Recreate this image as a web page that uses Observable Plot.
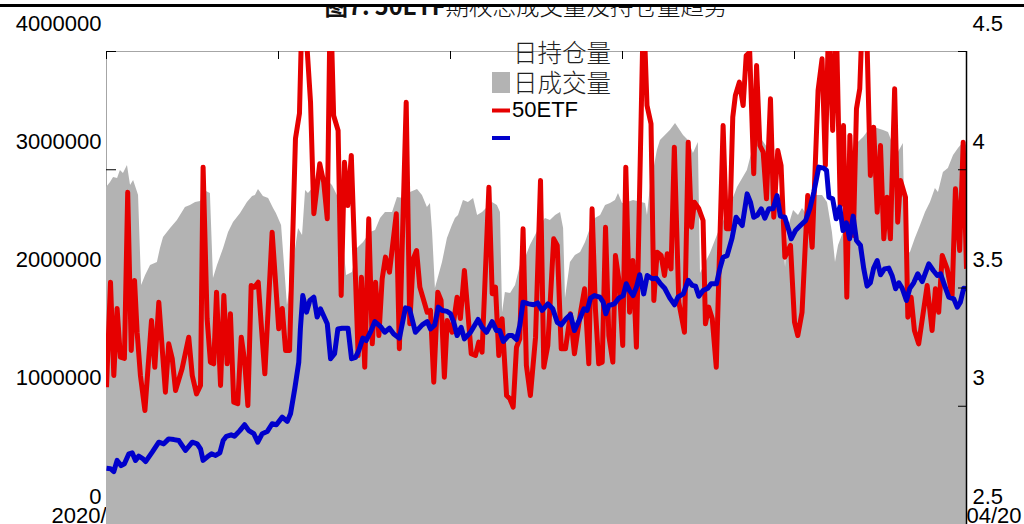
<!DOCTYPE html>
<html lang="zh"><head><meta charset="utf-8">
<script src="https://cdn.jsdelivr.net/npm/d3@7"></script>
<script src="https://cdn.jsdelivr.net/npm/@observablehq/plot@0.6"></script>
<style>
html,body{margin:0;padding:0;background:#fff;width:1024px;height:524px;overflow:hidden;}
#chart{position:absolute;left:0;top:0;}
#overlay{position:absolute;left:0;top:0;}
</style></head>
<body>
<div id="chart"></div>
<svg id="overlay" width="1024" height="524">
  <text x="526" y="15" text-anchor="middle" font-size="23.5" font-family="Noto Sans CJK SC" fill="#111"><tspan font-weight="bold">图7: 50ETF</tspan><tspan font-weight="300">期权总成交量及持仓量趋势</tspan></text>
  <rect x="0" y="0" width="1024" height="4" fill="#fff"/>
  <rect x="0" y="4" width="1024" height="3" fill="#000"/>
  <g id="legend"></g>
</svg>
<script>
// ---- data (days since start date; volumes in thousand contracts; 50ETF price in CNY) ----
const startDate = "2020-04-20";
const endDay = 365;
const UNIT = 1000;

const seriesNames = ["日持仓量", "日成交量", "50ETF"];

const oiDays = [0,1.7,3.0,4.7,5.9,7.2,8.9,10.2,11.5,13.2,
13.6,14.9,16.6,18.7,21.6,22.9,24.2,27.2,30.1,33.5,
35.6,37.8,39.9,42.4,44.1,45.4,47.1,49.7,51.8,53.9,
56.9,59.8,62.0,63.2,64.5,66.6,68.8,70.9,72.1,74.3,
76.8,81.5,83.2,84.5,85.7,88.7,90.0,92.9,95.9,98.0,
100.2,101.9,104.4,106.5,109.1,112.0,114.2,116.3,118.4,121.4,
123.5,126.0,129.0,132.0,134.1,136.2,137.5,138.4,139.6,142.6,
144.7,146.8,148.1,149.4,151.5,153.6,155.8,157.5,159.6,161.7,
163.8,165.9,167.2,168.1,169.3,171.5,173.6,175.7,177.8,179.9,
182.1,184.2,186.3,188.4,190.6,192.7,194.0,194.8,196.9,199.0,
201.2,203.3,205.4,207.5,209.7,211.8,213.9,216.0,217.3,219.0,
221.1,223.7,228.8,229.6,230.9,232.1,233.8,235.1,239.3,241.5,
244.9,247.0,249.1,251.2,252.1,256.3,260.6,263.6,267.8,272.0,
274.2,276.3,278.4,280.5,282.6,284.8,286.9,288.2,289.4,291.6,
293.7,295.4,297.5,298.8,300.9,303.9,306.0,308.1,309.4,310.7,
312.8,317.0,319.1,321.3,324.2,327.2,329.8,331.9,334.0,336.1,
338.2,339.1,341.2,343.3,345.5,347.6,349.7,351.8,353.1,355.2,
357.3,359.5,361.6,363.7,365];
const oiValues = [2850,2892,2935,2926,2994,2968,3036,2867,2909,2808,
2782,2021,2106,2190,2216,2334,2427,2503,2571,2681,
2698,2723,2732,2816,2799,2080,2190,2334,2469,2554,
2630,2723,2774,2782,2833,2774,2757,2672,2630,2529,
1852,2503,2444,2825,2799,2867,3011,2926,2867,2782,
2469,2106,2131,2334,2385,2469,2486,2588,2639,2639,
2765,2757,2808,2833,2782,2681,2715,2469,1996,2216,
2419,2529,2588,2613,2740,2723,2757,2613,2639,2681,
2723,2698,2639,1793,1962,1954,2021,2190,2250,2360,
2444,2529,2588,2571,2613,2639,2503,1911,2216,2275,
2300,2385,2503,2588,2613,2698,2715,2740,2799,2715,
2723,2740,2715,2613,2867,2977,3163,3247,3332,3391,
3290,3247,3138,3231,2123,2292,2512,2630,2850,2994,
3163,3247,3247,3188,2994,2765,2512,2173,2512,2655,
2613,2672,2613,2723,2782,2782,2723,2469,2216,2360,
2469,2926,3231,3273,3349,3349,3332,3315,3205,3146,
3222,2275,2300,2419,2529,2639,2723,2842,2808,2977,
3011,3121,3180,3231,3205];

const volDays = [0,1.7,3.1,4.5,5.9,7.6,9.0,10.5,11.9,13.0,
14.4,16.3,19.1,20.5,22.2,25.0,26.4,27.9,29.3,32.1,
34.9,36.4,38.2,39.9,41.0,42.7,44.1,45.5,46.7,48.4,
49.8,51.2,52.6,54.0,55.7,57.2,58.6,60.0,61.4,62.8,
64.4,65.8,67.2,70.3,73.1,74.6,76.0,77.7,80.2,81.9,
83.3,86.6,88.0,90.5,92.2,93.7,95.0,96.4,98.3,99.6,
101.0,102.4,103.9,106.8,108.2,109.6,111.3,112.8,114.2,115.6,
117.0,118.4,120.1,123.0,124.3,127.2,128.7,130.2,131.6,133.0,
136.1,137.5,138.9,140.6,142.0,143.4,144.6,146.7,148.8,150.2,
151.9,154.8,156.6,158.0,159.4,162.3,163.7,165.1,166.5,167.9,
169.8,171.2,172.6,174.0,175.4,176.8,178.2,179.9,182.1,184.2,
185.6,187.3,189.8,191.3,193.0,194.8,196.9,198.6,201.2,202.9,
204.7,206.1,207.5,208.9,210.4,211.8,213.2,214.9,216.0,217.4,
219.1,220.4,222.0,223.4,224.9,227.9,229.4,231.1,232.3,233.7,
235.4,236.8,238.0,239.6,241.0,242.9,245.3,246.9,248.3,249.5,
251.4,253.2,254.2,255.6,257.1,258.8,261.7,263.1,264.5,265.8,
266.9,268.6,270.2,271.5,273.0,274.7,275.9,277.3,278.7,280.1,
281.8,283.2,284.9,286.3,287.9,290.3,292.0,293.4,295.2,297.6,
299.5,302.0,303.7,305.1,306.5,308.2,309.7,311.4,312.8,314.2,
315.5,317.0,318.3,319.7,320.8,322.5,324.2,325.6,327.1,328.5,
329.9,331.3,332.7,334.5,335.8,337.0,339.1,340.1,341.5,342.9,
344.7,348.3,350.4,351.8,353.2,354.7,356.8,358.9,360.3,362.1,
363.6,365];
const volValues = [1161,2049,1260,1827,1415,1404,2810,1472,2064,1626,
1260,964,1725,1330,1880,1119,1528,1404,1133,1319,
1584,1260,1105,1176,3022,1740,1373,1359,1965,1176,
1937,1359,1782,1034,1021,1584,1387,1006,2021,2007,
2049,1655,1274,2472,1655,1827,1472,1472,3264,3476,
4600,3571,2628,3050,2895,2585,4500,3459,3332,1937,
3064,2698,3121,1429,2091,1330,2585,1528,2049,1598,
2078,2261,2134,2628,1486,3571,1697,2247,2317,2007,
1795,1810,1203,1965,1894,1246,1725,1626,1922,1742,
2148,1444,1429,1542,1457,2853,1951,2007,1429,1740,
1091,1063,992,1499,1570,2501,1345,1091,1584,2909,
1330,1514,2416,2360,1486,1486,1782,1444,1795,1993,
1359,2670,1824,1359,1373,2514,1598,1373,2275,2078,
1514,3022,1795,2233,1499,4400,3543,3389,1894,2303,
2275,2106,2289,2162,3191,1880,1626,3233,2514,2726,
2670,2571,1697,1838,1740,1330,3374,2501,2501,3445,
3628,3741,3543,3966,3994,2966,3882,3205,3149,2754,
3600,2599,3163,3036,2261,2360,1711,1598,1795,2782,
2345,3670,3938,3036,4300,3332,4300,2698,3374,1922,
3290,2444,3516,3685,4300,4300,2951,3360,2641,3205,
2416,2768,2416,3685,2557,2909,2768,1753,1922,1641,
1528,2021,1641,1993,1795,2275,2162,1937,2839,2317,
3233,2162];

const etfDays = [0,1.7,3.1,4.5,6.2,7.6,9.5,10.9,12.3,13.7,
15.2,16.6,19.4,22.2,24.3,26.4,28.6,30.7,33.5,36.4,
38.5,39.9,41.0,42.7,44.6,46.3,48.1,49.5,50.9,52.9,
54.3,56.6,58.6,60.4,62.5,64.2,66.1,68.2,70.3,72.1,
74.6,76.7,78.1,79.9,81.6,82.3,83.3,84.9,86.3,88.0,
89.4,90.8,93.7,95.1,96.8,98.2,100.0,102.5,104.0,105.7,
107.1,108.8,110.2,112.0,113.9,116.3,118.1,120.1,121.9,124.3,
126.9,128.6,131.1,134.0,136.1,137.5,139.3,140.8,142.5,144.6,
146.0,147.4,148.8,150.5,151.9,154.5,157.7,159.4,161.3,163.7,
165.5,166.9,168.4,170.7,172.2,174.0,175.4,176.8,179.2,181.3,
183.0,184.9,187.3,189.4,191.3,193.0,195.2,196.9,198.6,200.9,
202.6,204.0,205.4,207.1,209.4,210.8,211.9,213.2,215.6,217.4,
219.3,220.6,222.0,223.5,224.9,226.3,228.0,229.5,231.6,233.4,
235.1,236.9,239.1,241.1,242.5,244.8,246.9,248.6,250.0,251.4,
253.2,255.2,256.6,258.9,260.3,261.7,263.4,265.5,267.2,269.8,
271.9,273.3,274.7,276.2,277.9,279.4,281.1,282.9,284.6,286.0,
287.9,289.6,290.6,292.4,294.5,296.7,298.5,300.2,302.3,304.4,
305.6,306.6,308.2,309.7,311.2,312.6,314.0,315.4,316.9,318.3,
320.0,321.4,322.8,324.2,325.6,327.1,328.5,330.2,332.0,333.4,
334.9,336.3,337.7,339.5,340.9,342.6,344.3,346.2,349.0,350.9,
352.6,354.0,355.7,357.5,359.6,361.1,362.4,363.8,365];
const etfValues = [2.738,2.736,2.724,2.771,2.749,2.757,2.799,2.803,2.771,2.789,
2.780,2.766,2.806,2.848,2.841,2.862,2.859,2.855,2.813,2.848,
2.841,2.820,2.771,2.785,2.799,2.792,2.803,2.855,2.873,2.879,
2.873,2.897,2.922,2.897,2.884,2.848,2.884,2.893,2.926,2.922,
2.954,2.936,2.968,3.074,3.186,3.329,3.468,3.398,3.447,3.461,
3.377,3.412,3.349,3.201,3.222,3.327,3.330,3.330,3.201,3.207,
3.236,3.288,3.278,3.313,3.358,3.337,3.313,3.330,3.306,3.288,
3.416,3.412,3.313,3.344,3.358,3.327,3.344,3.419,3.405,3.401,
3.391,3.355,3.299,3.334,3.285,3.313,3.367,3.334,3.313,3.358,
3.320,3.320,3.274,3.299,3.299,3.282,3.341,3.440,3.433,3.429,
3.437,3.405,3.433,3.412,3.355,3.344,3.372,3.387,3.320,3.370,
3.412,3.405,3.457,3.468,3.461,3.440,3.391,3.426,3.433,3.457,
3.468,3.518,3.489,3.468,3.503,3.556,3.475,3.553,3.539,3.541,
3.518,3.499,3.457,3.429,3.461,3.475,3.532,3.511,3.508,3.465,
3.489,3.499,3.518,3.518,3.581,3.630,3.637,3.711,3.799,3.764,
3.898,3.863,3.799,3.807,3.835,3.795,3.835,3.835,3.891,3.804,
3.799,3.743,3.708,3.743,3.764,3.785,3.835,3.905,4.011,4.007,
3.997,3.884,3.877,3.793,3.842,3.743,3.776,3.708,3.804,3.701,
3.680,3.581,3.508,3.522,3.584,3.616,3.556,3.581,3.584,3.553,
3.497,3.522,3.499,3.447,3.497,3.522,3.560,3.527,3.602,3.574,
3.553,3.560,3.511,3.461,3.454,3.419,3.440,3.499,3.497];

const leftTicks = [0, 1000000, 2000000, 3000000, 4000000];
const rightTicks = [2.5, 3, 3.5, 4, 4.5];
const dateTicks = ["2020-04-20","2020-07-02","2020-09-13","2020-11-25","2021-02-06","2021-04-20"];
const dateLabels = ["2020/04/20", "2021/04/20"];

// ---- build tables ----
const t0 = Date.parse(startDate + "T00:00:00Z");
const toDate = d => new Date(t0 + d * 864e5);
const oi = oiDays.map((d, i) => ({date: toDate(d), value: oiValues[i] * UNIT}));
const vol = volDays.map((d, i) => ({date: toDate(d), value: volValues[i] * UNIT}));
const etf = etfDays.map((d, i) => ({date: toDate(d), price: etfValues[i]}));
const yMax = leftTicks[leftTicks.length - 1];
const rMin = rightTicks[0], rMax = rightTicks[rightTicks.length - 1];
const toLeft = p => (p - rMin) / (rMax - rMin) * yMax;
const dTicks = dateTicks.map(s => new Date(s + "T00:00:00Z"));
const ends = [toDate(0), toDate(endDay)];

const font = "Liberation Sans, Arial, sans-serif";
const chart = Plot.plot({
  width: 1024, height: 524,
  marginLeft: 106, marginRight: 58, marginTop: 51, marginBottom: 0,
  x: {type: "utc", domain: ends, axis: null},
  y: {domain: [0, yMax], axis: null},
  style: {fontFamily: font, fontSize: "22px", overflow: "visible", background: "transparent"},
  marks: [
    Plot.text(leftTicks, {y: d => d, text: d => d3.format("d")(d), frameAnchor: "left", textAnchor: "end",
      dx: -5, dy: -28, lineAnchor: "middle", fontSize: 22, fill: "#000", ariaLabel: "left-labels"}),
    Plot.text(rightTicks, {y: d => toLeft(d), text: d => String(d), frameAnchor: "right", textAnchor: "start",
      dx: 6, dy: -28, lineAnchor: "middle", fontSize: 22, fill: "#000"}),
    Plot.text(ends, {x: d => d, text: (d, i) => dateLabels[i], frameAnchor: "bottom", textAnchor: "middle",
      lineAnchor: "middle", dy: -9, fontSize: 22, fill: "#000"}),
    Plot.frame({stroke: "#a6a6a6"}),
    Plot.ruleY(leftTicks, {y: d => d, stroke: "#000", insetRight: 850}),
    Plot.areaY(oi, {x: "date", y: "value", fill: "#b3b3b3", curve: "linear"}),
    Plot.ruleX(dTicks, {x: d => d, stroke: "#000", insetBottom: 465}),
    Plot.line(vol, {x: "date", y: "value", stroke: "#e60000", strokeWidth: 5, clip: true, strokeLinecap: "butt"}),
    Plot.line(etf, {x: "date", y: d => toLeft(d.price), stroke: "#0000cc", strokeWidth: 5, clip: true, strokeLinecap: "butt"}),
    Plot.ruleX([ends[1]], {x: d => d, stroke: "#000", strokeWidth: 1.5}),
    Plot.ruleY(leftTicks, {y: d => d, stroke: "#000", insetLeft: 852})
  ]
});
document.getElementById("chart").appendChild(chart);
d3.select(chart).selectAll('g[aria-label="left-labels"] text').style("letter-spacing", "1px");

// ---- legend (as drawn in the reference) ----
const lg = d3.select("#legend");
const cjk = "Noto Sans CJK SC, sans-serif";
lg.append("text").attr("x", 513).attr("y", 62).attr("font-family", cjk).attr("font-weight", 300)
  .attr("font-size", 24.5).attr("fill", "#222").text(seriesNames[0]);
lg.append("rect").attr("x", 492).attr("y", 72).attr("width", 18).attr("height", 21).attr("fill", "#b3b3b3");
lg.append("text").attr("x", 513).attr("y", 91.5).attr("font-family", cjk).attr("font-weight", 300)
  .attr("font-size", 24.5).attr("fill", "#222").text(seriesNames[1]);
lg.append("rect").attr("x", 492).attr("y", 108.5).attr("width", 18).attr("height", 4).attr("fill", "#e60000");
lg.append("text").attr("x", 512).attr("y", 117).attr("font-family", font)
  .attr("font-size", 22).attr("fill", "#000").text(seriesNames[2]);
lg.append("rect").attr("x", 492).attr("y", 136).attr("width", 18).attr("height", 4).attr("fill", "#0000cc");
</script>
</body></html>
